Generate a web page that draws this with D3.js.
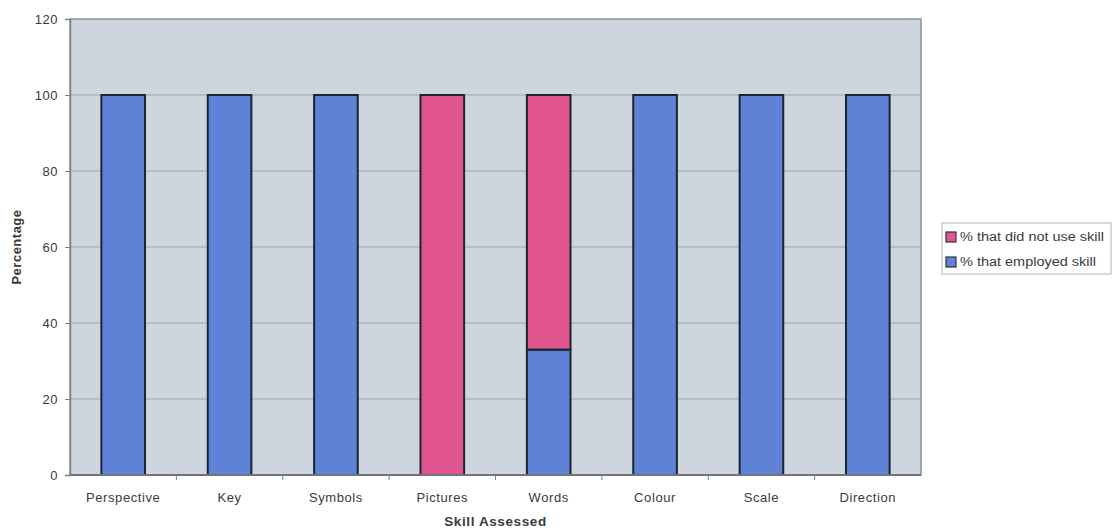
<!DOCTYPE html>
<html>
<head>
<meta charset="utf-8">
<script src="https://cdn.jsdelivr.net/npm/d3@7"></script>
<style>
  html, body { margin: 0; padding: 0; background: #fff; }
  svg { display: block; font-family: "Liberation Sans", Arial, sans-serif; }
</style>
</head>
<body>
<svg id="chart" width="1113" height="531"></svg>
<script>
// Skills assessed and the share of maps that used each one
const categories = ["Perspective", "Key", "Symbols", "Pictures", "Words", "Colour", "Scale", "Direction"];
const employed = [100, 100, 100, 0, 33, 100, 100, 100];
const notUsed = [0, 0, 0, 100, 67, 0, 0, 0];
const seriesNames = ["% that employed skill", "% that did not use skill"];
const yTicks = [0, 20, 40, 60, 80, 100, 120];

const colors = { employed: "#5f81d6", notUsed: "#e0558f" };
const textColor = "#3a3a3a";

const svg = d3.select("#chart");
const margin = { left: 70, right: 192, top: 19, bottom: 56 };
const W = 1113, H = 531;
const x0 = margin.left, x1 = W - margin.right;
const y0 = H - margin.bottom, y1 = margin.top;

const x = d3.scaleBand().domain(categories).range([x0, x1]).paddingInner(0.59).paddingOuter(0.295);
const xCat = d3.scaleBand().domain(categories).range([x0, x1]);
const y = d3.scaleLinear().domain([0, 120]).range([y0, y1]);

// Plot area background
svg.append("rect")
  .attr("x", x0).attr("y", y1)
  .attr("width", x1 - x0).attr("height", y0 - y1)
  .attr("fill", "#cfd5de")
  .attr("stroke", "#8c9096").attr("stroke-width", 1.5);

// Horizontal gridlines
svg.append("g").selectAll("line")
  .data(yTicks.filter(t => t > 0 && t < 120))
  .join("line")
  .attr("x1", x0).attr("x2", x1)
  .attr("y1", d => y(d)).attr("y2", d => y(d))
  .attr("stroke", "#9ea3aa").attr("stroke-width", 1.2);

// Stacked data
const rows = categories.map((c, i) => ({ cat: c, employed: employed[i], notUsed: notUsed[i] }));
const stack = d3.stack().keys(["employed", "notUsed"])(rows);

svg.append("g").selectAll("g")
  .data(stack)
  .join("g")
  .attr("fill", d => colors[d.key])
  .selectAll("rect")
  .data(d => d.filter(s => s[1] - s[0] > 0))
  .join("rect")
  .attr("x", d => x(d.data.cat))
  .attr("width", x.bandwidth())
  .attr("y", d => y(d[1]))
  .attr("height", d => y(d[0]) - y(d[1]))
  .attr("stroke", "#17272c").attr("stroke-width", 2);

// Y axis
const yAxis = svg.append("g")
  .attr("transform", `translate(${x0},0)`)
  .call(d3.axisLeft(y).tickValues(yTicks).tickSize(5).tickPadding(7));
yAxis.select(".domain").attr("stroke", "#7d8288").attr("stroke-width", 1.5);
yAxis.selectAll(".tick line").attr("stroke", "#7d8288");
yAxis.selectAll("text").attr("font-size", 13).attr("letter-spacing", 0.5).attr("fill", textColor);

// X axis with ticks between categories
const xAxis = svg.append("g").attr("transform", `translate(0,${y0})`);
xAxis.append("line")
  .attr("x1", x0).attr("x2", x1).attr("y1", 0).attr("y2", 0)
  .attr("stroke", "#6f7479").attr("stroke-width", 2);
xAxis.selectAll("line.sep")
  .data(categories.slice(1))
  .join("line")
  .attr("class", "sep")
  .attr("x1", d => xCat(d)).attr("x2", d => xCat(d))
  .attr("y1", 0).attr("y2", 5)
  .attr("stroke", "#7d8288");
xAxis.selectAll("text")
  .data(categories)
  .join("text")
  .attr("x", d => xCat(d) + xCat.bandwidth() / 2)
  .attr("y", 27)
  .attr("text-anchor", "middle")
  .attr("font-size", 13).attr("letter-spacing", 0.6).attr("fill", textColor)
  .text(d => d);

// Axis titles
svg.append("text")
  .attr("x", (x0 + x1) / 2).attr("y", 526)
  .attr("text-anchor", "middle")
  .attr("font-size", 13.5).attr("letter-spacing", 0.6)
  .attr("font-weight", "bold").attr("fill", textColor)
  .text("Skill Assessed");

svg.append("text")
  .attr("transform", `translate(21,${(y0 + y1) / 2}) rotate(-90)`)
  .attr("text-anchor", "middle")
  .attr("font-size", 13).attr("letter-spacing", 0.5)
  .attr("font-weight", "bold").attr("fill", textColor)
  .text("Percentage");

// Legend (top entry is the upper stack segment)
const legend = svg.append("g").attr("transform", "translate(942,223)");
legend.append("rect")
  .attr("width", 169).attr("height", 51)
  .attr("fill", "#fff").attr("stroke", "#b0b3b7").attr("stroke-width", 1);
const items = [
  { name: seriesNames[1], color: colors.notUsed, len: 144 },
  { name: seriesNames[0], color: colors.employed, len: 136 }
];
const li = legend.selectAll("g.item").data(items).join("g")
  .attr("class", "item")
  .attr("transform", (d, i) => `translate(4,${9 + i * 25})`);
li.append("rect")
  .attr("width", 10).attr("height", 10)
  .attr("fill", d => d.color)
  .attr("stroke", "#333").attr("stroke-width", 1.2);
li.append("text")
  .attr("x", 14).attr("y", 9)
  .attr("font-size", 12).attr("fill", textColor)
  .attr("textLength", d => d.len).attr("lengthAdjust", "spacingAndGlyphs")
  .text(d => d.name);
</script>
</body>
</html>
